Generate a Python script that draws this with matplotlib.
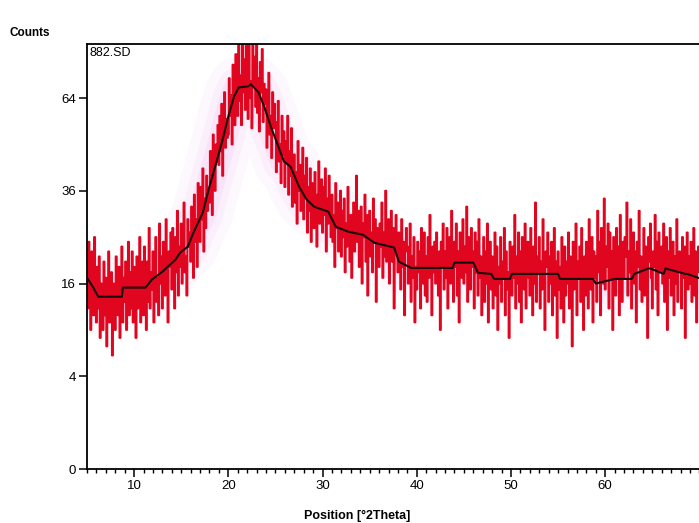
import numpy as np
import matplotlib
matplotlib.use("Agg")
import matplotlib.pyplot as plt

# --- data -------------------------------------------------------------
x_start, x_step = 5.0, 0.1
counts = [
    20, 12, 24, 15, 9, 22, 17, 11, 25, 13,
    10, 19, 12, 21, 8, 16, 14, 9, 20, 11,
    17, 7, 15, 22, 10, 13, 18, 6, 16, 12,
    9, 21, 14, 11, 19, 8, 15, 23, 10, 17,
    13, 20, 9, 16, 24, 11, 18, 12, 22, 10,
    19, 14, 8, 21, 12, 17, 25, 10, 15, 20,
    11, 23, 16, 9, 20, 13, 27, 12, 18, 15,
    22, 10, 19, 25, 13, 17, 11, 28, 16, 21,
    12, 24, 18, 14, 29, 16, 10, 22, 19, 26,
    15, 27, 21, 12, 25, 18, 31, 14, 23, 19,
    28, 16, 24, 33, 18, 21, 14, 29, 23, 26,
    20, 32, 25, 17, 35, 24, 29, 19, 38, 27,
    24, 37, 29, 42, 22, 34, 27, 40, 31, 36,
    33, 47, 38, 30, 52, 41, 36, 49, 44, 55,
    43, 58, 47, 62, 40, 53, 66, 48, 57, 51,
    52, 71, 58, 65, 49, 76, 61, 55, 80, 63,
    58, 84, 63, 72, 55, 88, 66, 78, 60, 90,
    75, 57, 86, 64, 70, 54, 92, 68, 79, 61,
    85, 59, 71, 53, 77, 66, 82, 56, 69, 62,
    67, 48, 60, 73, 52, 58, 45, 66, 54, 62,
    56, 41, 52, 63, 44, 49, 38, 58, 46, 53,
    37, 50, 44, 58, 35, 47, 40, 54, 32, 45,
    46, 33, 41, 28, 50, 36, 43, 31, 39, 48,
    29, 40, 35, 45, 26, 37, 31, 42, 24, 38,
    36, 27, 41, 30, 23, 35, 44, 28, 33, 39,
    26, 37, 30, 42, 22, 34, 28, 40, 31, 25,
    35, 24, 30, 19, 38, 27, 33, 22, 29, 36,
    21, 31, 25, 34, 18, 28, 23, 37, 26, 20,
    30, 17, 27, 33, 22, 29, 40, 24, 31, 19,
    23, 32, 16, 28, 25, 35, 20, 30, 14, 27,
    31, 21, 26, 18, 34, 24, 29, 13, 27, 22,
    19, 28, 23, 33, 17, 26, 21, 36, 20, 25,
    29, 16, 24, 31, 20, 27, 12, 25, 30, 22,
    18, 26, 21, 15, 29, 19, 24, 11, 22, 27,
    23, 16, 20, 28, 13, 21, 17, 25, 10, 19,
    15, 24, 18, 22, 12, 27, 20, 16, 26, 14,
    21, 13, 25, 17, 30, 19, 11, 23, 18, 24,
    16, 26, 20, 14, 22, 9, 24, 19, 28, 15,
    22, 17, 27, 12, 21, 25, 16, 31, 18, 13,
    24, 19, 28, 14, 22, 10, 26, 20, 17, 29,
    16, 23, 18, 32, 13, 25, 21, 15, 27, 19,
    22, 12, 26, 18, 24, 14, 29, 17, 21, 11,
    19, 25, 13, 22, 16, 28, 10, 20, 24, 15,
    21, 12, 18, 26, 14, 23, 9, 19, 16, 25,
    13, 20, 17, 27, 11, 22, 15, 18, 8, 24,
    19, 14, 23, 17, 30, 12, 21, 16, 26, 13,
    22, 10, 25, 18, 15, 28, 12, 20, 24, 17,
    14, 27, 19, 11, 23, 16, 33, 13, 21, 18,
    25, 12, 20, 15, 29, 17, 9, 22, 19, 26,
    13, 21, 16, 24, 11, 18, 27, 14, 20, 8,
    22, 15, 19, 12, 25, 17, 10, 23, 14, 20,
    16, 26, 12, 21, 18, 7, 24, 15, 19, 28,
    11, 20, 17, 23, 13, 27, 16, 9, 21, 14,
    24, 18, 12, 29, 20, 15, 25, 10, 22, 17,
    21, 13, 31, 18, 24, 11, 27, 20, 16, 34,
    15, 23, 19, 28, 12, 26, 17, 22, 9, 25,
    20, 14, 27, 17, 23, 11, 30, 18, 13, 24,
    17, 25, 21, 33, 14, 22, 18, 29, 12, 20,
    26, 16, 22, 10, 24, 19, 31, 15, 21, 13,
    18, 27, 14, 23, 16, 8, 25, 20, 28, 17,
    12, 22, 19, 30, 15, 24, 11, 26, 18, 21,
    23, 16, 28, 13, 20, 25, 9, 22, 17, 27,
    14, 19, 24, 11, 21, 16, 29, 13, 18, 22,
    20, 12, 25, 17, 23, 8, 19, 26, 15, 21,
    16, 24, 13, 20, 27, 14, 22, 10, 18, 23,
    19,
]

profile_x = [5.0, 5.6, 6.2, 8.7, 8.8, 11.2, 11.9, 13.0, 14.4, 14.9, 15.7,
             16.3, 17.3, 17.9, 18.6, 19.4, 20.0, 20.6, 21.1, 22.1, 22.4,
             23.2, 23.8, 24.5, 25.3, 25.9, 26.6, 27.5, 28.3, 29.1, 30.6,
             31.4, 32.7, 34.3, 35.5, 37.6, 38.1, 39.4, 43.8, 44.0, 46.0,
             46.5, 47.9, 48.2, 49.9, 50.1, 51.0, 51.2, 55.0, 55.2, 56.0,
             56.2, 58.7, 59.0, 61.0, 61.2, 62.8, 63.1, 64.6, 64.8, 66.2,
             66.4, 68.5, 68.7, 70.2]
profile_y = [17.0, 15.5, 13.8, 13.8, 15.3, 15.3, 16.7, 18.1, 20.4, 21.8, 23.0,
             26.0, 30.6, 36.3, 42.5, 50.5, 57.8, 64.5, 67.7, 68.1, 68.8,
             66.0, 61.1, 54.6, 48.4, 44.0, 42.5, 37.1, 33.8, 32.0, 30.8,
             27.3, 26.2, 25.5, 23.8, 22.8, 20.0, 18.8, 18.8, 19.8, 19.8,
             17.9, 17.7, 16.8, 16.8, 17.7, 17.7, 17.7, 17.7, 16.8, 16.8,
             16.8, 16.8, 16.0, 16.8, 16.8, 16.8, 17.7, 18.7, 18.7, 17.7,
             18.7, 17.7, 17.7, 16.8]

x_ticks = [10, 20, 30, 40, 50, 60]
y_ticks = [0, 4, 16, 36, 64]

# --- plot -------------------------------------------------------------
plt.rcParams['font.family'] = ['Liberation Sans', 'DejaVu Sans']

fig = plt.figure(figsize=(6.99, 5.23), dpi=100)
ax = fig.add_axes([87 / 699, 54 / 523, 1 - 87 / 699 + 0.002, 425 / 523])

xs = x_start + x_step * np.arange(len(counts))

fwd = lambda v: np.sqrt(np.clip(v, 0, None))
inv = lambda v: np.square(v)
ax.set_yscale('function', functions=(fwd, inv))

# soft pink glow behind the data
for lw, a in [(44, 0.04), (30, 0.06), (20, 0.08)]:
    ax.plot(profile_x, profile_y, color='#e060e0', lw=lw, alpha=a,
            solid_capstyle='round', zorder=1)

ax.plot(xs, counts, color='#e0061f', lw=1.5, drawstyle='steps-mid', zorder=2)
ax.plot(profile_x, profile_y, color='#1a0808', lw=1.5, zorder=3)

ax.set_xlim(5.0, 70.1)
ax.set_ylim(0, 84)
ax.set_yticks(y_ticks)
ax.set_yticklabels([str(t) for t in y_ticks])
ax.set_xticks(x_ticks)
ax.set_xticklabels([str(t) for t in x_ticks])
ax.set_xticks(np.arange(5, 71, 1), minor=True)
ax.yaxis.set_minor_locator(matplotlib.ticker.NullLocator())

ax.tick_params(axis='both', which='major', direction='out', length=6,
               width=1.1, labelsize=9.5, pad=2)
ax.tick_params(axis='x', which='minor', direction='out', length=3, width=1.0)

for s in ['left', 'bottom', 'top']:
    ax.spines[s].set_linewidth(1.3)
ax.spines['right'].set_visible(False)

ax.text(0.004, 0.993, '882.SD', transform=ax.transAxes, ha='left', va='top',
        fontsize=9)

fig.text(10 / 699, 1 - 33 / 523, 'Counts', ha='left', va='center',
         fontsize=8.5, fontweight='bold')
fig.text(357 / 699, 1 - 516 / 523, 'Position [°2Theta]', ha='center',
         va='center', fontsize=9, fontweight='bold')

fig.savefig('out.png', dpi=100)
